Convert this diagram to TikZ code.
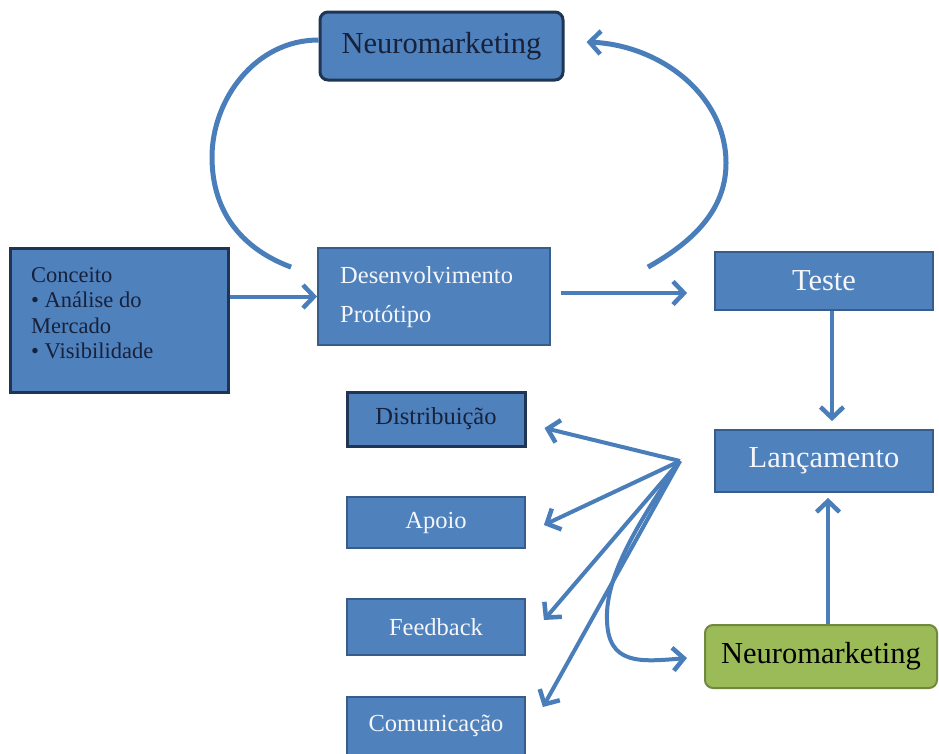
\documentclass[tikz,border=0pt]{standalone}
\usepackage{fontspec}
\setmainfont{Liberation Serif}
\usetikzlibrary{arrows.meta}

\definecolor{boxblue}{HTML}{4F81BD}
\definecolor{edgeblue}{HTML}{385D8A}
\definecolor{darkedge}{HTML}{1F3553}
\definecolor{inkdark}{HTML}{17213A}
\definecolor{inklight}{HTML}{F4F6FA}
\definecolor{arrowblue}{HTML}{4A7EBB}
\definecolor{leafgreen}{HTML}{9BBB59}
\definecolor{leafedge}{HTML}{71893F}

\tikzset{
  box/.style={draw=edgeblue, line width=1.8pt, fill=boxblue, inner sep=0pt, anchor=center},
  heavybox/.style={box, draw=darkedge, line width=3pt},
  darktext/.style={text=inkdark},
  lighttext/.style={text=inklight},
  bigfont/.style={font=\fontsize{30.5}{33}\selectfont},
  midfont/.style={font=\fontsize{24.5}{28}\selectfont},
  barb/.tip={Straight Barb[length=11pt,width=23pt,line width=4.5pt]},
  flow/.style={draw=arrowblue, line width=4pt, -barb},
  loopline/.style={draw=arrowblue, line width=5pt},
}

\begin{document}
\begin{tikzpicture}[x=1pt,y=-1pt]
  \useasboundingbox (0,0) rectangle (939,753);
  \fill[white] (0,0) rectangle (939,753);
  \clip (0,0) rectangle (939,753);

  % upper loop box
  \node[heavybox, rounded corners=8pt, minimum width=243pt, minimum height=68pt,
        darktext, bigfont] (neuro) at (441.5,46) {Neuromarketing};

  % concept box with its bullet list
  \node[heavybox, minimum width=218pt, minimum height=144pt] (conceito) at (119,320) {};
  \node[darktext, inner sep=0pt, anchor=north west, align=left,
        font=\fontsize{22.5}{25.5}\selectfont] (conceitotxt) at (31,267)
        {Conceito\\ \textbullet\ Análise do\\ Mercado\\ \textbullet\ Visibilidade};

  % development box
  \node[box, minimum width=232pt, minimum height=97pt] (desenv) at (434,296.5) {};
  \node[lighttext, inner sep=0pt, anchor=north west, align=left,
        font=\fontsize{24.5}{39}\selectfont] (desenvtxt) at (340,266)
        {Desenvolvimento\\ Protótipo};

  % test and launch
  \node[box, minimum width=218pt, minimum height=58pt, lighttext, bigfont] (teste) at (824,281) {Teste};
  \node[box, minimum width=218pt, minimum height=62pt, lighttext, bigfont] (lanc) at (824,461) {Lançamento};

  % left column
  \node[heavybox, minimum width=178pt, minimum height=54pt, darktext, midfont] (dist) at (436,419) {Distribuição};
  \node[box, minimum width=178pt, minimum height=51pt, lighttext, midfont] (apoio) at (436,522.5) {Apoio};
  \node[box, minimum width=178pt, minimum height=56pt, lighttext, midfont] (feed) at (436,627) {Feedback};
  \node[box, minimum width=178pt, minimum height=58pt, lighttext, midfont] (comun) at (436,726) {Comunicação};

  % green box
  \node[draw=leafedge, line width=2pt, fill=leafgreen, rounded corners=8pt, inner sep=0pt,
        minimum width=232pt, minimum height=63pt, text=black, bigfont] (green) at (821,656.5) {Neuromarketing};

  % straight connectors
  \draw[flow] (conceito.east |- desenv.west) -- (desenv.west);
  \draw[flow] ([shift={(10,-3.5)}]desenv.east) -- ([shift={(-27,-3.5)}]desenv.east -| teste.west);
  \draw[flow] ([xshift=8pt]teste.south) -- ([xshift=8pt,yshift=8pt]lanc.north);
  \draw[flow] ([xshift=7pt]green.north) -- ([xshift=7pt,yshift=-5pt]green.north |- lanc.south);

  % loop around the upper box
  \draw[loopline] ([yshift=6pt]neuro.west) .. controls (255,40) and (212,100) .. (212,157)
        .. controls (212,215) and (245,250) .. ([shift={(-26,20)}]desenv.north west);
  \draw[loopline, -barb] ([shift={(97,20)}]desenv.north east)
        .. controls (700,238) and (726,205) .. (726,163)
        .. controls (726,95) and (660,45) .. ([shift={(22,-4)}]neuro.east);

  % fan of arrows
  \coordinate (hub) at (680,461);
  \draw[flow] (hub) -- ([shift={(18,9)}]dist.east);
  \draw[flow] (hub) -- ([shift={(18,2.5)}]apoio.east);
  \draw[flow] (hub) -- ([shift={(18,-7)}]feed.east);
  \draw[flow] (hub) -- ([shift={(17,-19)}]comun.east);
  \draw[flow] (hub) .. controls (640,520) and (605,575) .. (607,620)
        .. controls (608,665) and (640,662) .. ([shift={(-17,1.5)}]green.west);
\end{tikzpicture}
\end{document}
